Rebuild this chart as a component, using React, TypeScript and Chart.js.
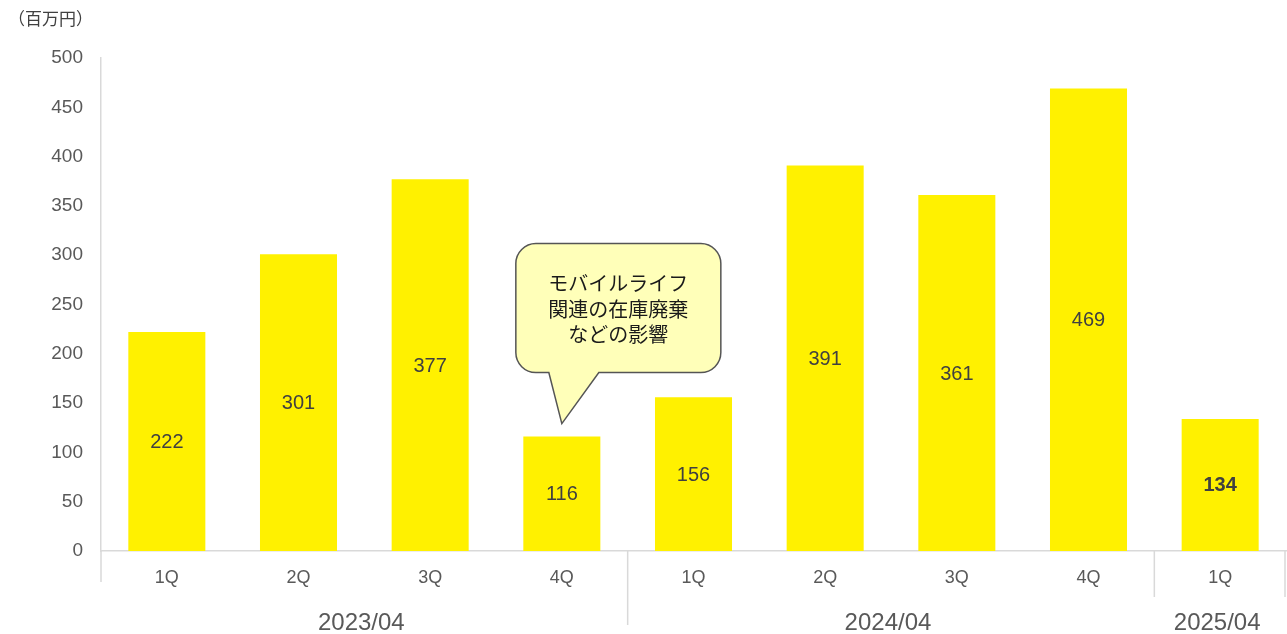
import React, { useEffect, useRef } from "react";
import { Chart, registerables } from "chart.js";

Chart.register(...registerables);

const quarters = ["1Q", "2Q", "3Q", "4Q", "1Q", "2Q", "3Q", "4Q", "1Q"];
const values = [222, 301, 377, 116, 156, 391, 361, 469, 134];
const groups = ["2023/04", "2024/04", "2025/04"];
const groupSizes = [4, 4, 1];
const boldIndex = [8];
const unitLabel = "（百万円）";
const calloutLines = ["モバイルライフ", "関連の在庫廃棄", "などの影響"];
const calloutIndex = 3;

const LATIN = "'Liberation Sans', Arial, sans-serif";
const CJK = "'Noto Sans CJK JP', 'Noto Sans', sans-serif";

const overlayPlugin = {
  id: "overlay",
  afterDatasetsDraw(chart: any) {
    const ctx: CanvasRenderingContext2D = chart.ctx;
    const xs = chart.scales.x;
    const ys = chart.scales.y;
    const area = chart.chartArea;
    const meta = chart.getDatasetMeta(0);

    // data labels
    ctx.save();
    ctx.textAlign = "center";
    ctx.textBaseline = "middle";
    ctx.fillStyle = "#404040";
    meta.data.forEach((bar: any, i: number) => {
      const bold = boldIndex.includes(i);
      ctx.font = (bold ? "bold " : "") + "20px " + LATIN;
      ctx.fillText(String(values[i]), bar.x, (bar.y + bar.base) / 2 + 1);
    });
    ctx.restore();

    // separators
    ctx.save();
    ctx.strokeStyle = "#d9d9d9";
    ctx.lineWidth = 1.5;
    const step = xs.getPixelForValue(1) - xs.getPixelForValue(0);
    const bounds: { x: number; len: number }[] = [];
    bounds.push({ x: area.left, len: 31 });
    let idx = 0;
    groupSizes.forEach((n, g) => {
      idx += n;
      const bx = xs.getPixelForValue(idx - 1) + step / 2;
      const len = g === 0 ? 74 : 46;
      bounds.push({ x: Math.min(bx, area.right - 1), len });
    });
    bounds.forEach((b) => {
      ctx.beginPath();
      ctx.moveTo(b.x, area.bottom);
      ctx.lineTo(b.x, area.bottom + b.len);
      ctx.stroke();
    });
    ctx.restore();

    // group labels
    ctx.save();
    ctx.textAlign = "center";
    ctx.textBaseline = "middle";
    ctx.fillStyle = "#595959";
    ctx.font = "24px " + LATIN;
    let start = 0;
    groupSizes.forEach((n, g) => {
      const l = xs.getPixelForValue(start) - step / 2;
      const r = xs.getPixelForValue(start + n - 1) + step / 2;
      ctx.fillText(groups[g], (l + r) / 2 - 3, area.bottom + 72);
      start += n;
    });
    ctx.restore();

    // unit label
    ctx.save();
    ctx.textAlign = "left";
    ctx.textBaseline = "middle";
    ctx.fillStyle = "#404040";
    ctx.font = "17px " + CJK;
    ctx.fillText(unitLabel, 8, 19);
    ctx.restore();

    // callout
    const tipX = xs.getPixelForValue(calloutIndex);
    const tipY = ys.getPixelForValue(values[calloutIndex]) - 13;
    const bx = tipX - 46;
    const by = tipY - 180;
    const bw = 205;
    const bh = 129;
    ctx.save();
    ctx.beginPath();
    const r = 20;
    const x = bx, y = by, w = bw, h = bh;
    ctx.moveTo(x + r, y);
    ctx.lineTo(x + w - r, y);
    ctx.arcTo(x + w, y, x + w, y + r, r);
    ctx.lineTo(x + w, y + h - r);
    ctx.arcTo(x + w, y + h, x + w - r, y + h, r);
    ctx.lineTo(tipX + 37, y + h);
    ctx.lineTo(tipX, tipY);
    ctx.lineTo(tipX - 13, y + h);
    ctx.lineTo(x + r, y + h);
    ctx.arcTo(x, y + h, x, y + h - r, r);
    ctx.lineTo(x, y + r);
    ctx.arcTo(x, y, x + r, y, r);
    ctx.closePath();
    ctx.fillStyle = "#FFFFB9";
    ctx.fill();
    ctx.strokeStyle = "#555555";
    ctx.lineWidth = 1.5;
    ctx.stroke();
    ctx.fillStyle = "#1a1a1a";
    ctx.font = "20px " + CJK;
    ctx.textAlign = "center";
    ctx.textBaseline = "middle";
    calloutLines.forEach((line, i) => {
      ctx.fillText(line, bx + bw / 2, by + 40 + i * 25.5);
    });
    ctx.restore();
  },
};

export default function App() {
  const ref = useRef<HTMLCanvasElement>(null);
  useEffect(() => {
    document.body.style.margin = "0";
    const chart = new Chart(ref.current!, {
      type: "bar",
      data: {
        labels: quarters,
        datasets: [
          {
            data: values,
            backgroundColor: "#FFF100",
            borderWidth: 0,
            barPercentage: 0.585,
            categoryPercentage: 1.0,
          },
        ],
      },
      options: {
        animation: false,
        responsive: false,
        maintainAspectRatio: false,
        layout: { padding: { top: 58, right: 1, left: 0, bottom: 0 } },
        plugins: { legend: { display: false }, tooltip: { enabled: false }, title: { display: false } },
        scales: {
          x: {
            grid: { display: false, drawTicks: false },
            border: { display: true, color: "#d9d9d9", width: 1.5 },
            ticks: { color: "#595959", font: { size: 18, family: LATIN }, padding: 16, maxRotation: 0, autoSkip: false },
            afterFit: (s: any) => { s.height = 83; },
          },
          y: {
            min: 0,
            max: 500,
            grid: { display: false, drawTicks: false },
            border: { display: true, color: "#d9d9d9", width: 1.5 },
            ticks: { stepSize: 50, color: "#595959", font: { size: 19, family: LATIN }, padding: 18 },
            afterFit: (s: any) => { s.width = 101; },
          },
        },
      },
      plugins: [overlayPlugin],
    });
    return () => chart.destroy();
  }, []);
  return (
    <div style={{ width: 1287, height: 634 }}>
      <canvas ref={ref} width={1287} height={634} style={{ width: 1287, height: 634, display: "block" }} />
    </div>
  );
}
